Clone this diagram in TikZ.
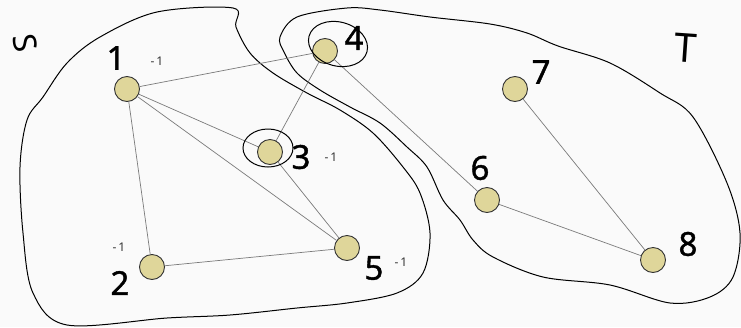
\documentclass[tikz,border=0pt]{standalone}
\usepackage{fontspec}
\setmainfont{Noto Sans}
\newfontfamily\numfont[FakeBold=1.2]{Noto Sans}
\usetikzlibrary{calc}
\definecolor{nodefill}{HTML}{DFD69A}
\definecolor{edgegray}{HTML}{7A7A7A}
\definecolor{bg}{HTML}{FAFAFA}
\begin{document}
\begin{tikzpicture}[x=1pt,y=-1pt,
  vert/.style={circle,draw=black!80,fill=nodefill,line width=0.9pt,minimum size=25pt,inner sep=0pt},
  edge/.style={draw=edgegray,line width=0.7pt},
  num/.style={font=\numfont\fontsize{33}{33}\selectfont,inner sep=0pt},
  wt/.style={font=\fontsize{12}{12}\selectfont,inner sep=0pt,text=black!80},
  hand/.style={draw=black,line width=1pt},
  letter/.style={inner sep=0pt}]
\fill[bg] (0,0) rectangle (741,327);
\useasboundingbox (0,0) rectangle (741,327);
% region boundaries
\draw[hand] plot[smooth cycle,tension=0.55] coordinates {
 (233,8) (236,27) (250,53) (273,73) (307,93) (340,110) (373,133) (403,167) (420,193)
 (430,233) (423,273) (397,293) (347,303) (297,308) (230,315) (167,318) (67,325)
 (33,293) (23,233) (20,167) (27,120) (43,97) (67,63) (100,37) (157,12)};
\draw[hand] plot[smooth cycle,tension=0.55] coordinates {
 (280,37) (297,17) (347,8) (380,10) (430,17) (490,24) (527,33) (558,46) (610,63)
 (660,93) (693,117) (727,183) (740,233) (733,277) (710,297) (670,303) (610,285)
 (543,277) (493,257) (473,240) (460,220) (443,200) (427,167) (407,147) (380,123)
 (350,107) (320,90) (297,73) (284,52)};
% vertices
\node[vert] (n1) at (127,89) {};
\node[vert] (n2) at (152,267) {};
\node[vert] (n3) at (270,152) {};
\node[vert] (n4) at (325,51) {};
\node[vert] (n5) at (347,248) {};
\node[vert] (n6) at (487,200) {};
\node[vert] (n7) at (515,89) {};
\node[vert] (n8) at (653,260) {};
% edges
\path[edge] (n1) -- (n4);
\path[edge] (n1) -- (n3);
\path[edge] (n1) -- (n5);
\path[edge] (n1) -- (n2);
\path[edge] (n2) -- (n5);
\path[edge] (n3) -- (n4);
\path[edge] (n3) -- (n5);
\path[edge] (n4) -- (n6);
\path[edge] (n6) -- (n8);
\path[edge] (n7) -- (n8);
% circles around 3 and 4
\draw[hand,rotate around={-15:(338,44)}] (338,44) ellipse (30pt and 22pt);
\draw[hand] (268,148) ellipse (25pt and 19pt);
% labels
\node[num] (l1) at (116,58) {1};
\node[num] (l2) at (120,283) {2};
\node[num] (l3) at (301,157) {3};
\node[num] (l4) at (354,38) {4};
\node[num] (l5) at (374,268) {5};
\node[num] (l6) at (480,168) {6};
\node[num] (l7) at (541,72) {7};
\node[num] (l8) at (688,244) {8};
\node[wt] (w1) at (157,61) {-\,1};
\node[wt] (w2) at (119,247) {-\,1};
\node[wt] (w3) at (331,157) {-\,1};
\node[wt] (w5) at (401,262) {-\,1};
\node[letter,rotate=-80,font=\fontsize{32}{32}\selectfont] (s) at (25,43) {S};
\node[letter,rotate=-4,font=\fontsize{40}{40}\selectfont] (t) at (686,48) {T};
\end{tikzpicture}
\end{document}
